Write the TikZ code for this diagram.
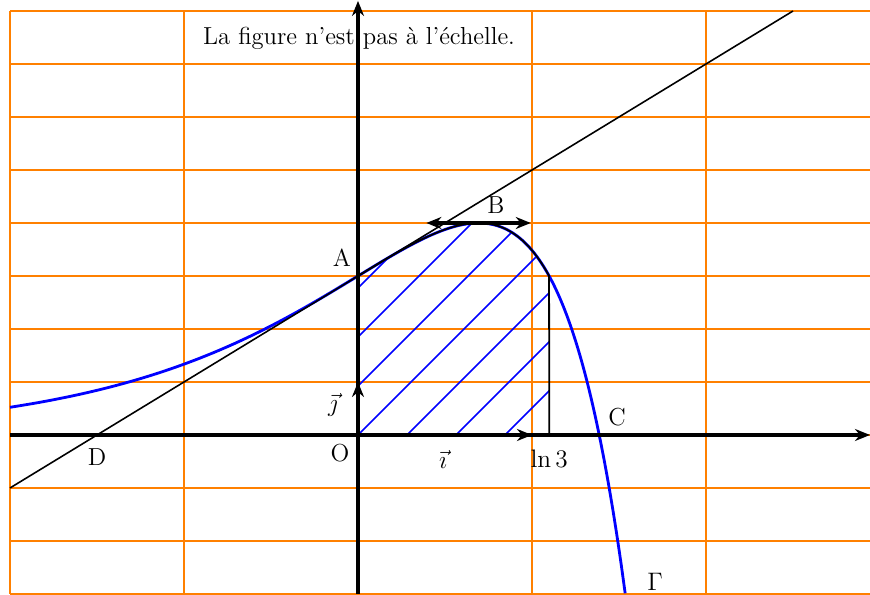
\documentclass[tikz,border=0pt]{standalone}
\usepackage{amsmath}
\usepackage{xcolor}
\usetikzlibrary{arrows.meta, positioning}

\begin{document}
\begin{tikzpicture}[
  x=3.48cm, y=1.06cm,
  declare function={f(\t)=4*exp(\t)-exp(2*\t);},
  every node/.style={font=\fontsize{14}{16}\selectfont, inner sep=1pt},
  grille/.style={orange, line width=1.1pt},
  axe/.style={-{Stealth[length=3mm, width=2.4mm]}, line width=1.8pt},
  vect/.style={-{Stealth[length=3mm, width=2.4mm]}, line width=1.8pt},
  dble/.style={{Stealth[length=3mm, width=2.4mm]}-{Stealth[length=3mm, width=2.4mm]}, line width=1.8pt},
  courbe/.style={blue, line width=1.6pt},
  hachure/.style={blue, line width=1pt},
  bord/.style={black, line width=1pt},
  tang/.style={black, line width=0.9pt},
]
  \useasboundingbox (-2.0575,-3.0189) rectangle (2.9425,8.2075);

  % points
  \coordinate (O) at (0,0);
  \coordinate (A) at (0,3);
  \coordinate (B) at ({ln(2)},4);
  \coordinate (C) at ({ln(4)},0);
  \coordinate (D) at (-1.5,0);
  \coordinate (L) at ({ln(3)},0);
  \coordinate (I) at (1,0);
  \coordinate (J) at (0,1);

  % grid
  \foreach \i in {-2,...,3}
    \draw[grille] (\i,-3) -- (\i,8);
  \foreach \j in {-3,...,8}
    \draw[grille] (-2,\j) -- (3,\j);

  % hatched area
  \begin{scope}
    \clip (O) -- (A) -- plot[domain=0:1.0986, samples=60] (\x,{f(\x)}) -- (L) -- cycle;
    \foreach \k in {-5,...,4}
      \draw[hachure] (\k*0.98cm,0cm) ++(-6cm,-6cm) -- ++(12cm,12cm);
  \end{scope}

  % curve Gamma
  \draw[courbe] plot[domain=-2:1.536, samples=150, smooth] (\x,{f(\x)});
  \draw[bord] (O) -- (A) -- plot[domain=0:1.0986, samples=60, smooth] (\x,{f(\x)}) -- (L);

  % axes
  \coordinate (xg) at (-2,0);
  \coordinate (xd) at (2.9425,0);
  \coordinate (yb) at (0,-3);
  \coordinate (yh) at (0,8.19);
  \draw[axe] (xg) -- (xd);
  \draw[axe] (yb) -- (yh);

  % tangent at A
  \coordinate (T1) at (-2,-1);
  \coordinate (T2) at (2.5,8);
  \draw[tang] (T1) -- (T2);

  % tangent at B
  \coordinate (B1) at (0.393,4);
  \coordinate (B2) at (0.993,4);
  \draw[dble] (B1) -- (B2);

  % unit vectors
  \draw[vect] (O) -- (I);
  \draw[vect] (O) -- (J);

  % labels
  \node (titre) at (0.006,7.49) {La figure n'est pas à l'échelle.};
  \node (nA) at (-0.092,3.34) {A};
  \node (nB) at (0.793,4.34) {B};
  \node (nC) at (1.489,0.34) {C};
  \node (nD) at (-1.5,-0.415) {D};
  \node (nO) at (-0.103,-0.34) {O};
  \node (nL) at (1.0986,-0.44) {$\ln 3$};
  \node (ni) at (0.489,-0.47) {$\vec{\imath}$};
  \node (nj) at (-0.144,0.566) {$\vec{\jmath}$};
  \node (nG) at (1.707,-2.78) {$\Gamma$};
\end{tikzpicture}
\end{document}
